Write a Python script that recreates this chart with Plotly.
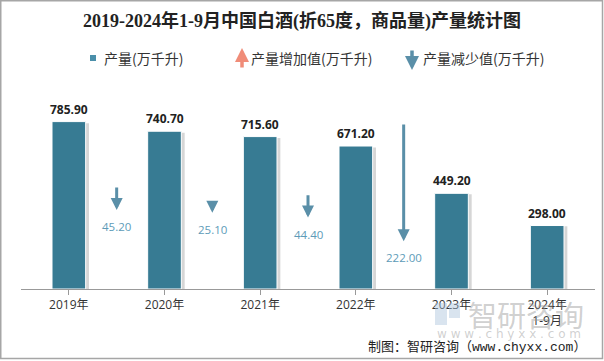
import plotly.graph_objects as go

# ---- data ----
categories = ["2019年", "2020年", "2021年", "2022年", "2023年", "2024年<br>1-9月"]
production = [785.90, 740.70, 715.60, 671.20, 449.20, 298.00]
# year-on-year decreases shown between the first five bars
changes = [round(production[i] - production[i + 1], 2) for i in range(4)]

W, H = 604, 361
BASE_PX = 289
TOP_PX = 80
SCALE = 0.213  # px per unit
YMAX = (BASE_PX - TOP_PX) / SCALE

def px(x):
    return x / W

def py(y):
    return 1 - y / H

BAR_COLOR = "#377b93"
ARROW_DOWN = "#5a8fa8"
ARROW_UP = "#f08c78"
DEC_LABEL = "#5d9bb8"
CJK = "Open Sans, Noto Sans CJK SC"

fig = go.Figure()
xs = list(range(len(categories)))
bw = 0.352

# shadow
fig.add_trace(go.Bar(
    x=xs, y=[v * 0.99 for v in production], width=bw, offset=-bw / 2 + 0.035,
    marker=dict(color="rgba(0,0,0,0.16)", line=dict(width=0)),
    hoverinfo="skip", showlegend=False))
# bars
fig.add_trace(go.Bar(
    x=xs, y=production, width=bw, offset=-bw / 2,
    marker=dict(color=BAR_COLOR, line=dict(color="white", width=1)),
    showlegend=False))

annotations = []
# value labels
for i, v in enumerate(production):
    annotations.append(dict(
        x=i, y=v, xref="x", yref="y", text=f"{v:.2f}", showarrow=False,
        yanchor="bottom", yshift=2,
        font=dict(family="Open Sans", size=12, color="#222", weight="bold")))

# decrease arrows
ARROW_K = 2.5
for i, c in enumerate(changes):
    head = production[i + 1] * 0.5
    tail = head + c * ARROW_K
    annotations.append(dict(
        x=i + 0.5, y=head, xref="x", yref="y", ax=i + 0.5, ay=tail,
        axref="x", ayref="y", text="", showarrow=True, arrowhead=2,
        arrowsize=0.8, arrowwidth=3, arrowcolor=ARROW_DOWN, standoff=0))
    annotations.append(dict(
        x=i + 0.5, y=head, xref="x", yref="y", text=f"{c:.2f}",
        showarrow=False, yanchor="top", yshift=-7,
        font=dict(family="Open Sans", size=11.5, color=DEC_LABEL)))

# title
annotations.append(dict(
    x=px(302), y=py(21), xref="paper", yref="paper",
    text="2019-2024年1-9月中国白酒(折65度，商品量)产量统计图",
    showarrow=False, xanchor="center", yanchor="middle",
    font=dict(family="Liberation Serif, Noto Sans CJK SC", size=18,
              color="#222", weight="bold")))

# legend
legend_items = [
    (102, "产量(万千升)"),
    (249, "产量增加值(万千升)"),
    (421, "产量减少值(万千升)"),
]
for x0, t in legend_items:
    annotations.append(dict(
        x=px(x0), y=py(58), xref="paper", yref="paper", text=t,
        showarrow=False, xanchor="left", yanchor="middle",
        font=dict(family="Noto Sans CJK SC", size=14, color="#333")))
annotations.append(dict(
    x=px(242), y=py(48), xref="paper", yref="paper", ax=0, ay=21,
    text="", showarrow=True, arrowhead=2, arrowsize=0.8, arrowwidth=3.5,
    arrowcolor=ARROW_UP, standoff=0))
annotations.append(dict(
    x=px(412), y=py(70), xref="paper", yref="paper", ax=0, ay=-21,
    text="", showarrow=True, arrowhead=2, arrowsize=0.8, arrowwidth=3.5,
    arrowcolor=ARROW_DOWN, standoff=0))

# watermark
annotations.append(dict(
    x=px(466), y=py(314), xref="paper", yref="paper", text="智研咨询",
    showarrow=False, xanchor="left", yanchor="middle",
    font=dict(family="Noto Sans CJK SC", size=29, color="rgba(150,150,150,0.45)")))
annotations.append(dict(
    x=px(509), y=py(334), xref="paper", yref="paper",
    text="w w w . c h y x x . c o m",
    showarrow=False, xanchor="center", yanchor="middle",
    font=dict(family="DejaVu Sans", size=12, color="rgba(150,150,150,0.45)")))

# footer
annotations.append(dict(
    x=px(588), y=py(347), xref="paper", yref="paper",
    text="制图：智研咨询（www.chyxx.com）",
    showarrow=False, xanchor="right", yanchor="middle",
    font=dict(family="Liberation Mono, Noto Sans CJK SC", size=13, color="#222")))

shapes = [
    # outer border
    dict(type="rect", xref="paper", yref="paper", x0=px(0.75), x1=px(602.5),
         y0=py(358.5), y1=py(0.75), line=dict(color="#a6a6a6", width=1.5)),
    # legend square
    dict(type="rect", xref="paper", yref="paper", x0=px(90), x1=px(96),
         y0=py(61), y1=py(55), line=dict(width=0), fillcolor="#4a8faa"),
    # watermark logo
    dict(type="rect", xref="paper", yref="paper", x0=px(435), x1=px(447),
         y0=py(325), y1=py(303), line=dict(width=0),
         fillcolor="rgba(170,195,220,0.45)", layer="above"),
    dict(type="rect", xref="paper", yref="paper", x0=px(449), x1=px(460),
         y0=py(318), y1=py(303), line=dict(width=0),
         fillcolor="rgba(170,195,220,0.45)", layer="above"),
]

fig.update_layout(
    width=W, height=H, margin=dict(l=0, r=0, t=0, b=0),
    paper_bgcolor="white", plot_bgcolor="white",
    barmode="overlay", showlegend=False,
    annotations=annotations, shapes=shapes,
    xaxis=dict(
        domain=[px(21), px(595)], range=[-0.5, len(categories) - 0.5],
        tickmode="array", tickvals=xs, ticktext=categories,
        tickson="boundaries", ticks="outside", ticklen=5, tickcolor="#999",
        showline=True, linecolor="#999", linewidth=1, showgrid=False,
        zeroline=False, tickfont=dict(family=CJK, size=12, color="#333")),
    yaxis=dict(
        domain=[py(BASE_PX), py(TOP_PX)], range=[0, YMAX],
        visible=False, showgrid=False, zeroline=False),
)

fig.write_html(
    "out.html",
    config={"displayModeBar": False},
    post_script="document.body.style.margin='0';document.body.style.padding='0';",
)
